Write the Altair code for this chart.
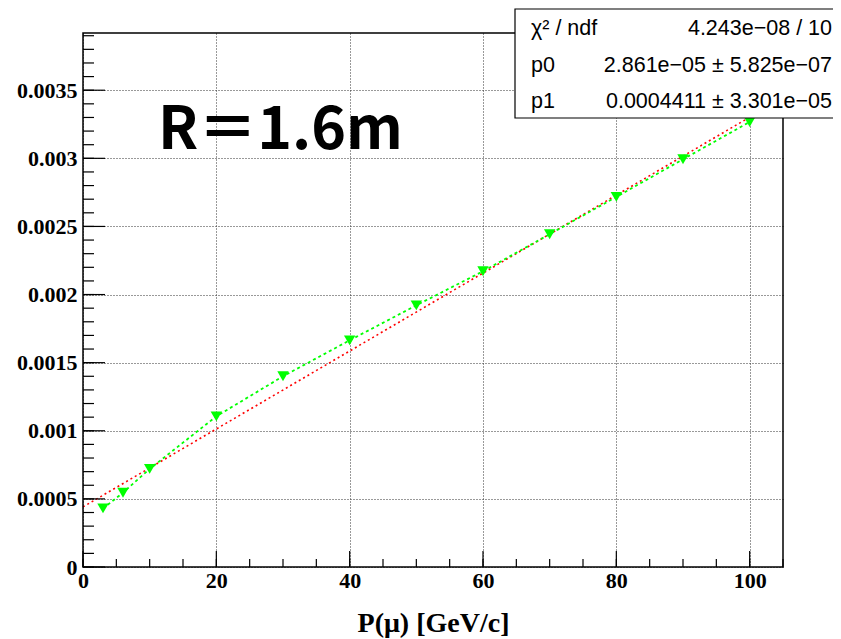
import altair as alt
import pandas as pd

# ---- data ----
p_mu = [3, 6, 10, 20, 30, 40, 50, 60, 70, 80, 90, 100]
resolution = [0.000430, 0.000545, 0.000720, 0.001106, 0.001400, 0.001664,
              0.001921, 0.002171, 0.002443, 0.002717, 0.002993, 0.003267]
fit_x = [0, 100]
fit_y = [0.000441, 0.003302]

x_major = [0, 20, 40, 60, 80, 100]
x_minor = [0, 5, 10, 15, 20, 25, 30, 35, 40, 45, 50, 55, 60, 65, 70, 75, 80,
           85, 90, 95, 100, 105]
y_major = [0, 0.0005, 0.001, 0.0015, 0.002, 0.0025, 0.003, 0.0035]
y_minor = [round(k * 0.0001, 6) for k in range(0, 40)]

stats_labels = ["χ² / ndf", "p0", "p1"]
stats_values = ["4.243e−08 / 10", "2.861e−05 ± 5.825e−07", "0.0004411 ± 3.301e−05"]
annotation = "R＝1.6m"
x_title = "P(μ) [GeV/c]"

W, H = 700, 534
xs = alt.Scale(domain=[0, 105], nice=False, zero=False)
ys = alt.Scale(domain=[0, 0.00392], nice=False, zero=False)

serif = "Liberation Serif"
sans = "Liberation Sans"

pts = pd.DataFrame({"x": p_mu, "y": resolution})
fit = pd.DataFrame({"x": fit_x, "y": fit_y})
one = pd.DataFrame({"a": [0]})

x_axis = alt.Axis(values=x_major, format="d", ticks=False, domain=False,
                  grid=True, gridDash=[1, 2], gridColor="#333", gridWidth=1,
                  labelFont=serif, labelFontWeight="bold", labelFontSize=22,
                  labelColor="black", labelPadding=3, labelFlush=False,
                  title=x_title, titleFont=serif, titleFontWeight="bold",
                  titleFontSize=28, titleColor="black", titleY=64,
                  titleBaseline="alphabetic")
y_axis = alt.Axis(values=y_major, format="~g", ticks=False, domain=False,
                  grid=True, gridDash=[1, 2], gridColor="#333", gridWidth=1,
                  labelFont=serif, labelFontWeight="bold", labelFontSize=22,
                  labelColor="black", labelPadding=6, labelFlush=False,
                  title="")

X = alt.X("x:Q", scale=xs, axis=x_axis, title=x_title)
Y = alt.Y("y:Q", scale=ys, axis=y_axis, title="")

fit_line = alt.Chart(fit).mark_line(color="#ff0000", strokeWidth=1.6,
                                    strokeDash=[2, 3]).encode(x=X, y=Y)
green_line = alt.Chart(pts).mark_line(color="#00ff00", strokeWidth=1.8,
                                      strokeDash=[3, 3]).encode(x=X, y=Y)
points = alt.Chart(pts).mark_point(shape="triangle-down", filled=True,
                                   color="#00ff00", opacity=1,
                                   size=130).encode(x=X, y=Y)

def xticks(vals, length):
    return alt.Chart(pd.DataFrame({"x": vals})).mark_rule(
        color="black", strokeWidth=1.2).encode(
        x=X, y=alt.value(H), y2=alt.value(H - length))

def yticks(vals, length):
    return alt.Chart(pd.DataFrame({"y": vals})).mark_rule(
        color="black", strokeWidth=1.2).encode(
        y=Y, x=alt.value(0), x2=alt.value(length))

frame = alt.Chart(one).mark_rect(fill="transparent", stroke="black",
                                 strokeWidth=1.5).encode(
    x=alt.value(0), x2=alt.value(W), y=alt.value(0), y2=alt.value(H))

box = alt.Chart(one).mark_rect(fill="white", stroke="black",
                               strokeWidth=1.2).encode(
    x=alt.value(432), x2=alt.value(800), y=alt.value(-24), y2=alt.value(85))

row_y = [2, 38.5, 75]
stat_layers = []
for lab, val, yy in zip(stats_labels, stats_values, row_y):
    stat_layers.append(
        alt.Chart(pd.DataFrame({"t": [lab]})).mark_text(
            align="left", baseline="alphabetic", font=sans, fontSize=21.5,
            color="black").encode(text="t:N", x=alt.value(448), y=alt.value(yy)))
    stat_layers.append(
        alt.Chart(pd.DataFrame({"t": [val]})).mark_text(
            align="right", baseline="alphabetic", font=sans, fontSize=21.5,
            color="black").encode(text="t:N", x=alt.value(749), y=alt.value(yy)))

label = alt.Chart(pd.DataFrame({"t": [annotation]})).mark_text(
    align="left", baseline="alphabetic", font="Noto Sans CJK JP",
    fontWeight="bold", fontSize=59, color="black").encode(
    text="t:N", x=alt.value(75), y=alt.value(116))

chart = alt.layer(
    fit_line, green_line, points,
    xticks(x_minor, 8), xticks(x_major, 16),
    yticks(y_minor, 11), yticks(y_major, 22),
    frame, box, *stat_layers, label,
).properties(
    width=W, height=H,
    autosize=alt.AutoSizeParams(type="none"),
    padding={"left": 75, "top": 25, "right": 50, "bottom": 72},
    background="white",
).configure_view(strokeWidth=0)

chart.save("out.html", embed_options={"renderer": "svg", "actions": False})
